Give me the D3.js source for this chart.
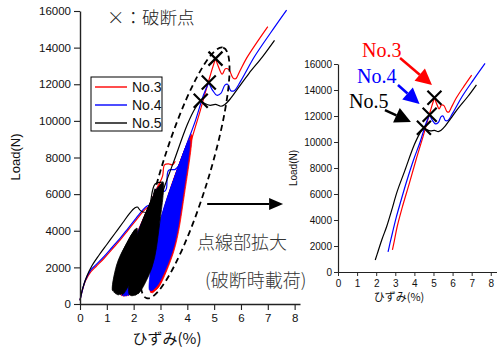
<!DOCTYPE html>
<html>
<head>
<meta charset="utf-8">
<script src="https://cdn.jsdelivr.net/npm/d3@7/dist/d3.min.js"></script>
<style>
  body { margin: 0; background: #fff; }
  svg { display: block; }
</style>
</head>
<body>
<div id="chart"></div>
<script>
// ---- data (strain %, load N) ----
const seriesNames = ['No.3', 'No.4', 'No.5'];
const seriesColors = ['#ff0000', '#0000ff', '#000000'];
const strainTicks = [0, 1, 2, 3, 4, 5, 6, 7, 8];
const loadTicks = [0, 2000, 4000, 6000, 8000, 10000, 12000, 14000, 16000];

// first loading
const no3Initial = [[0,200],[0.08,700],[0.2,1250],[0.4,1750],[0.6,2050],[0.9,2500],[1.2,3000],[1.5,3500],[1.8,4050],[2.1,4600],[2.35,5050],[2.5,5250],[2.58,5300]];
const no4Initial = [[0,200],[0.08,700],[0.2,1300],[0.4,1850],[0.6,2150],[0.9,2600],[1.2,3100],[1.5,3600],[1.8,4150],[2.1,4700],[2.35,5150],[2.5,5350],[2.6,5400]];
const no5Initial = [[0,200],[0.1,850],[0.25,1500],[0.45,2100],[0.7,2650],[1.0,3250],[1.3,3850],[1.6,4450],[1.85,4950],[2.05,5250],[2.15,5300]];

// cyclic loops: [strain at bottom, load at bottom, strain at top, load at top]
const no3LoopsA = [[1.55,450,2.6,5300],[1.62,420,2.68,5600],[1.7,430,2.76,5900],[1.78,450,2.84,6200],[1.86,480,2.92,6450],[1.92,520,2.98,6650]];
const no3LoopsB = [[2.64,620,3.92,8300],[2.68,600,3.98,8550],[2.72,640,4.04,8800],[2.77,700,4.09,9000],[2.82,760,4.13,9150],[2.88,850,4.16,9250]];
const no4LoopsA = [[1.58,450,2.58,5200],[1.65,430,2.66,5500],[1.72,440,2.74,5800],[1.8,460,2.82,6100],[1.88,500,2.9,6350]];
const no4LoopsB = [[2.6,750,3.86,7900],[2.64,720,3.91,8150],[2.68,740,3.96,8400],[2.73,800,4.0,8600],[2.78,880,4.04,8800],[2.84,980,4.08,8950]];
const no5LoopsA = [[1.22,720,1.93,3650],[1.28,620,1.97,3850],[1.34,540,2.01,3950],[1.41,490,2.05,4050],[1.49,500,2.08,4100],[1.58,520,2.12,4150]];
const no5LoopsB = [[1.85,500,2.75,5800],[1.9,450,2.82,6050],[1.95,450,2.88,6250],[2.0,460,2.94,6400],[2.05,480,3.0,6500],[2.1,520,3.05,6600],[2.15,560,3.1,6650]];

// steps between loop groups
const no3Step = [[2.98,6650],[3.08,7000],[3.15,7600],[3.3,7650],[3.45,7600],[3.55,7800]];
const no4Step = [[2.9,6350],[3.05,6250],[3.15,6150],[3.22,6300],[3.3,7300],[3.55,7350],[3.7,7600]];
const no5Step = [[2.15,5300],[2.3,5050],[2.55,5050],[2.62,5500],[2.8,6550],[3.1,6650]];

// final loading up to break (also drawn in the inset)
const no3Final = [[2.85,1700],[2.95,2400],[3.1,3500],[3.35,4900],[3.75,6900],[4.1,8700],[4.45,10400],[4.7,11700],[4.9,12700],[5.05,13400]];
const no4Final = [[2.62,1540],[2.72,2200],[2.85,3000],[3.05,4200],[3.3,5500],[3.6,7000],[3.95,8600],[4.3,10000],[4.6,11400],[4.8,12100]];
const no5Final = [[1.95,920],[2.1,1600],[2.3,2500],[2.55,3500],[2.8,4700],[3.1,6200],[3.5,7800],[4.0,9800],[4.3,10700],[4.5,11100]];

// after break
const no3After = [[5.05,13400],[5.15,13000],[5.3,12550],[5.42,12850],[5.55,12800],[5.7,12350],[5.8,12300],[5.95,12700],[6.2,13400],[6.6,14300],[7.0,15150]];
const no4After = [[4.8,12100],[4.95,11650],[5.1,11400],[5.25,11500],[5.4,11950],[5.5,12000],[5.62,11650],[5.75,11650],[6.0,12200],[6.5,13500],[7.1,14800],[7.7,16050]];
const no5After = [[4.5,11100],[4.65,10950],[4.85,10850],[5.05,10900],[5.25,10800],[5.4,10900],[5.6,11200],[5.9,11800],[6.3,12600],[6.8,13500],[7.25,14400]];

const breakStrain = [5.05, 4.8, 4.5];
const breakLoad = [13400, 12100, 11100];

const series = [
  { name: seriesNames[0], color: seriesColors[0], initial: no3Initial, loopsA: no3LoopsA, step: no3Step, loopsB: no3LoopsB, final: no3Final, after: no3After },
  { name: seriesNames[1], color: seriesColors[1], initial: no4Initial, loopsA: no4LoopsA, step: no4Step, loopsB: no4LoopsB, final: no4Final, after: no4After },
  { name: seriesNames[2], color: seriesColors[2], initial: no5Initial, loopsA: no5LoopsA, step: no5Step, loopsB: no5LoopsB, final: no5Final, after: no5After }
];

const numFont = '"Liberation Sans", Arial, sans-serif';
const jpFont = '"Noto Sans CJK JP", sans-serif';
const serifFont = '"Liberation Serif", "Times New Roman", serif';

const svg = d3.select('#chart')
  .append('svg')
  .attr('width', 502)
  .attr('height', 349);

// axes helper
function drawAxes(g, x, y, o) {
  const xAxis = g.append('g').attr('transform', 'translate(0,' + y(0) + ')');
  xAxis.call(d3.axisBottom(x).tickValues(d3.range(0, 8.01, 0.5)).tickSize(o.minor).tickFormat(''));
  xAxis.call(d3.axisBottom(x).tickValues(strainTicks).tickSize(o.major).tickSizeOuter(0).tickPadding(o.padX).tickFormat(d3.format('d')));
  const yAxis = g.append('g').attr('transform', 'translate(' + x(0) + ',0)');
  yAxis.call(d3.axisLeft(y).tickValues(d3.range(0, 16001, 1000)).tickSize(o.minor).tickFormat(''));
  yAxis.call(d3.axisLeft(y).tickValues(loadTicks).tickSize(o.major).tickSizeOuter(0).tickPadding(o.padY).tickFormat(d3.format('d')));
  g.selectAll('.domain').attr('stroke', '#222').attr('stroke-width', o.lw);
  g.selectAll('.tick line').attr('stroke', '#222').attr('stroke-width', o.lw * 0.8);
  g.selectAll('.tick text').attr('fill', '#111').style('font-family', numFont).style('font-size', o.font + 'px');
}

function loopPath(d, x, y, w) {
  const bx = x(d[0]), by = y(d[1]), tx = x(d[2]), ty = y(d[3]);
  const dx = tx - bx, dy = ty - by, len = Math.hypot(dx, dy);
  const nx = -dy / len, ny = dx / len;
  const at = (t, off) => [bx + dx * t + nx * off, by + dy * t + ny * off];
  const pts = [[bx, by], at(0.25, w), at(0.62, w * 0.75), [tx, ty], at(0.8, -w * 0.6), at(0.45, -w * 0.9)];
  return d3.line().curve(d3.curveCatmullRomClosed)(pts);
}

function drawCross(g, cx, cy, r) {
  g.append('path')
    .attr('d', 'M' + (cx - r) + ',' + (cy - r) + 'L' + (cx + r) + ',' + (cy + r) + 'M' + (cx - r) + ',' + (cy + r) + 'L' + (cx + r) + ',' + (cy - r))
    .attr('stroke', '#000').attr('stroke-width', 2.2).attr('fill', 'none');
}

function arrow(g, x1, y1, x2, y2, color, lw, headLen, headW) {
  const a = Math.atan2(y2 - y1, x2 - x1);
  const bx = x2 - headLen * Math.cos(a), by = y2 - headLen * Math.sin(a);
  g.append('line').attr('x1', x1).attr('y1', y1).attr('x2', bx).attr('y2', by)
    .attr('stroke', color).attr('stroke-width', lw);
  const px = -Math.sin(a) * headW, py = Math.cos(a) * headW;
  g.append('path')
    .attr('d', 'M' + x2 + ',' + y2 + 'L' + (bx + px) + ',' + (by + py) + 'L' + (bx - px) + ',' + (by - py) + 'Z')
    .attr('fill', color);
}

// ---------------- main plot ----------------
const x = d3.scaleLinear().domain([0, 8.2]).range([80, 300]);
const y = d3.scaleLinear().domain([0, 16000]).range([304, 11]);
const main = svg.append('g');

const line = d3.line().x(d => x(d[0])).y(d => y(d[1])).curve(d3.curveCatmullRom);

series.forEach(s => {
  const g = main.append('g');
  [s.loopsA, s.loopsB].forEach((loops, i) => {
    g.selectAll(null)
      .data(loops)
      .enter()
      .append('path')
      .attr('d', d => loopPath(d, x, y, i === 0 ? 5.5 : 8))
      .attr('fill', s.color)
      .attr('stroke', s.color)
      .attr('stroke-width', 0.8);
  });
  [s.initial, s.step, s.final, s.after].forEach(p => {
    g.append('path').attr('d', line(p)).attr('fill', 'none')
      .attr('stroke', s.color).attr('stroke-width', 1.2);
  });
});

drawAxes(main, x, y, { major: 6, minor: 3, padX: 4, padY: 3, lw: 1.4, font: 11.5 });

// break markers
breakStrain.forEach((b, i) => drawCross(main, x(b), y(breakLoad[i]), 7));

// dashed ellipse round the break region
const ecx = x(3.91), ecy = y(7160);
main.append('ellipse')
  .attr('cx', 0).attr('cy', 0).attr('rx', 131).attr('ry', 24)
  .attr('transform', 'translate(' + ecx + ',' + ecy + ') rotate(-73)')
  .attr('fill', 'none').attr('stroke', '#000').attr('stroke-width', 1.8)
  .attr('stroke-dasharray', '6,4');

// legend
const leg = main.append('g').attr('transform', 'translate(91,77)');
leg.append('rect').attr('width', 71).attr('height', 54).attr('fill', '#fff').attr('stroke', '#000').attr('stroke-width', 1);
series.forEach((s, i) => {
  const ly = 10 + i * 18;
  leg.append('line').attr('x1', 4).attr('x2', 36).attr('y1', ly).attr('y2', ly)
    .attr('stroke', s.color).attr('stroke-width', 1.4);
  leg.append('text').attr('x', 41).attr('y', ly + 5).text(s.name)
    .style('font-family', numFont).style('font-size', '14px').attr('fill', '#111');
});

// titles
main.append('text').attr('x', 107).attr('y', 24).text('×：破断点')
  .style('font-family', jpFont).style('font-size', '17.5px').style('font-weight', 300).attr('fill', '#222');
main.append('text').attr('transform', 'translate(20,157) rotate(-90)').attr('text-anchor', 'middle')
  .text('Load(N)').style('font-family', numFont).style('font-size', '13px').attr('fill', '#111');
main.append('text').attr('x', 167).attr('y', 344).attr('text-anchor', 'middle')
  .text('ひずみ(%)').style('font-family', jpFont).style('font-size', '15px').attr('fill', '#111');

// arrow towards inset + caption
arrow(main, x(4.74), y(5460), x(7.57), y(5460), '#000', 2, 14, 6);
main.append('text').attr('x', 197).attr('y', 249).text('点線部拡大')
  .style('font-family', jpFont).style('font-size', '18px').style('font-weight', 300).attr('fill', '#333');
main.append('text').attr('x', 205).attr('y', 287).text('(破断時載荷)')
  .style('font-family', jpFont).style('font-size', '18px').style('font-weight', 300).attr('fill', '#333');

// ---------------- inset ----------------
const xi = d3.scaleLinear().domain([0, 8.3]).range([338, 496.5]);
const yi = d3.scaleLinear().domain([0, 16000]).range([272, 64]);
const inset = svg.append('g');
const lineI = d3.line().x(d => xi(d[0])).y(d => yi(d[1])).curve(d3.curveCatmullRom);

series.forEach(s => {
  [s.final, s.after].forEach(p => {
    inset.append('path').attr('d', lineI(p)).attr('fill', 'none')
      .attr('stroke', s.color).attr('stroke-width', 1.2);
  });
});

drawAxes(inset, xi, yi, { major: 4, minor: 2, padX: 4, padY: 2, lw: 1.2, font: 10 });

breakStrain.forEach((b, i) => drawCross(inset, xi(b), yi(breakLoad[i]), 7));

inset.append('text').attr('transform', 'translate(297,168) rotate(-90)').attr('text-anchor', 'middle')
  .text('Load(N)').style('font-family', numFont).style('font-size', '10px').attr('fill', '#111');
inset.append('text').attr('x', 399).attr('y', 301).attr('text-anchor', 'middle')
  .text('ひずみ(%)').style('font-family', jpFont).style('font-size', '11px').attr('fill', '#111');

// labelled arrows in inset
const callouts = [
  { name: seriesNames[0], color: seriesColors[0], tx: 362, ty: 57, from: [3.25, 16460], to: [4.92, 14380] },
  { name: seriesNames[1], color: seriesColors[1], tx: 357, ty: 83, from: [3.14, 14385], to: [4.27, 12920] },
  { name: seriesNames[2], color: seriesColors[2], tx: 349, ty: 108, from: [2.46, 12460], to: [3.82, 11540] }
];
callouts.forEach(c => {
  inset.append('text').attr('x', c.tx).attr('y', c.ty).text(c.name)
    .style('font-family', serifFont).style('font-size', '20px').attr('fill', c.color);
  arrow(inset, xi(c.from[0]), yi(c.from[1]), xi(c.to[0]), yi(c.to[1]), c.color, 2.5, 16, 8);
});
</script>
</body>
</html>
